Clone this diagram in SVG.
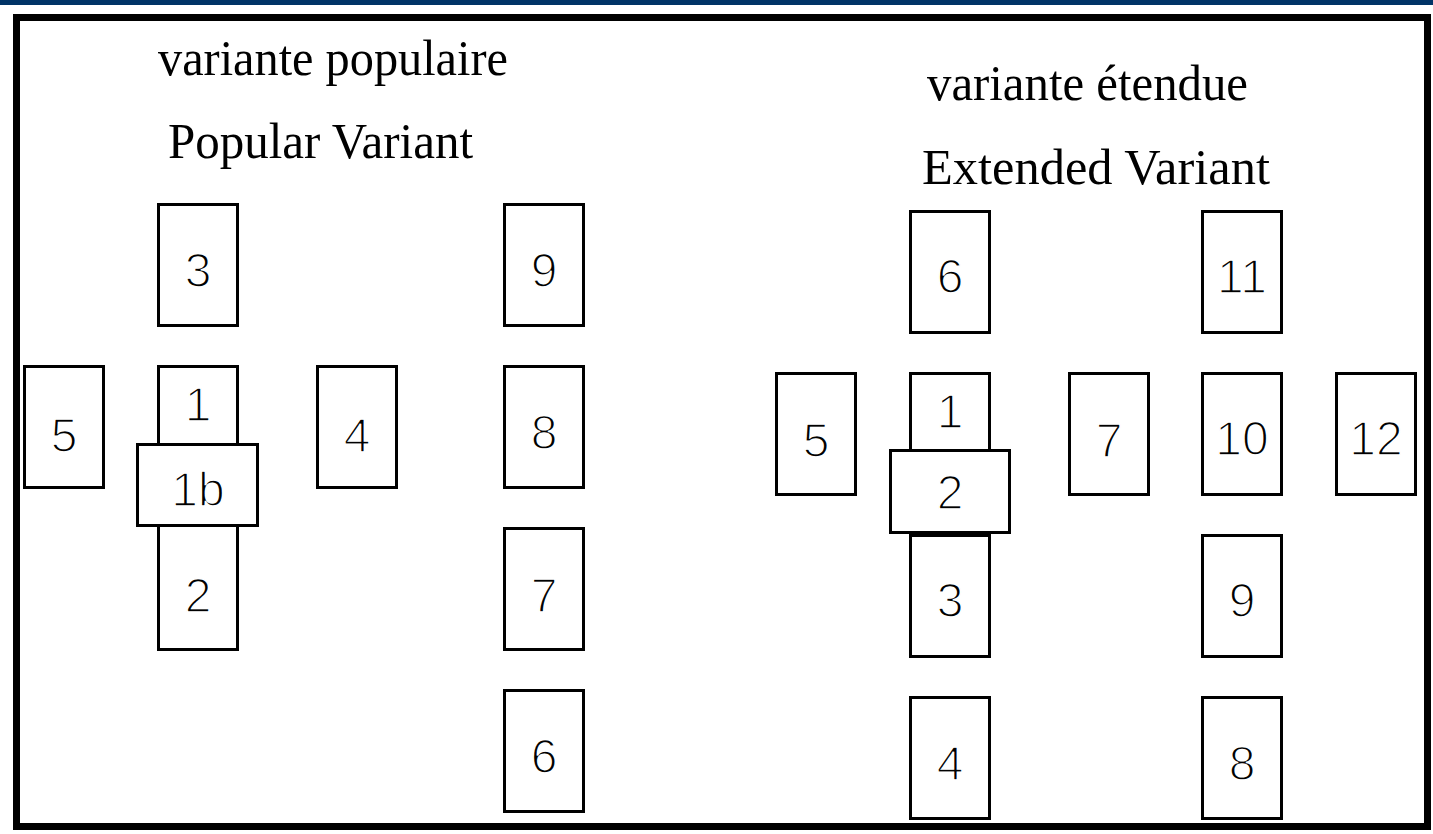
<svg xmlns="http://www.w3.org/2000/svg" width="1433" height="834" viewBox="0 0 1433 834">
<style>
.card{fill:#fff;stroke:#000;stroke-width:3;shape-rendering:crispEdges}
.num{font-family:"Liberation Sans",Arial,sans-serif;font-size:48px;fill:#000;stroke:#fff;stroke-width:1.6px;text-anchor:middle}
.title{font-family:"Liberation Serif","Times New Roman",serif;font-size:50px;fill:#000}
</style>
<rect x="0" y="0" width="1433" height="834" fill="#fff"/>
<rect x="0" y="0" width="1433" height="5" fill="#003366"/>
<rect x="16.5" y="17.5" width="1411" height="809" fill="none" stroke="#000" stroke-width="7"/>
<g id="titles">
<text class="title" x="158" y="75" textLength="350" lengthAdjust="spacingAndGlyphs">variante populaire</text>
<text class="title" x="168" y="158" textLength="305" lengthAdjust="spacingAndGlyphs">Popular Variant</text>
<text class="title" x="927" y="100" textLength="321" lengthAdjust="spacingAndGlyphs">variante étendue</text>
<text class="title" x="922" y="184" textLength="348" lengthAdjust="spacingAndGlyphs">Extended Variant</text>
</g>
<g id="connectors"></g>
<g id="popular">
<g id="p3"><rect class="card" x="158.5" y="204.5" width="79" height="121"/><text class="num" x="198" y="287">3</text></g>
<g id="p5"><rect class="card" x="24.5" y="366.5" width="79" height="121"/><text class="num" x="64" y="452">5</text></g>
<g id="p1"><rect class="card" x="158.5" y="366.5" width="79" height="121"/><text class="num" x="198" y="421">1</text></g>
<g id="p4"><rect class="card" x="317.5" y="366.5" width="79" height="121"/><text class="num" x="357" y="452">4</text></g>
<g id="p2"><rect class="card" x="158.5" y="525.5" width="79" height="124"/><text class="num" x="198" y="612">2</text></g>
<g id="p1b"><rect class="card" x="137.5" y="444.5" width="120" height="81"/><text class="num" x="198" y="506">1b</text></g>
<g id="p9"><rect class="card" x="504.5" y="204.5" width="79" height="121"/><text class="num" x="544" y="287">9</text></g>
<g id="p8"><rect class="card" x="504.5" y="366.5" width="79" height="121"/><text class="num" x="544" y="449">8</text></g>
<g id="p7"><rect class="card" x="504.5" y="528.5" width="79" height="121"/><text class="num" x="544" y="612">7</text></g>
<g id="p6"><rect class="card" x="504.5" y="690.5" width="79" height="121"/><text class="num" x="544" y="773">6</text></g>
</g>
<g id="extended">
<g id="e6"><rect class="card" x="910.5" y="211.5" width="79" height="121"/><text class="num" x="950" y="293">6</text></g>
<g id="e11"><rect class="card" x="1202.5" y="211.5" width="79" height="121"/><text class="num" x="1242" y="293">11</text></g>
<g id="e5"><rect class="card" x="776.5" y="373.5" width="79" height="121"/><text class="num" x="816" y="457">5</text></g>
<g id="e1"><rect class="card" x="910.5" y="373.5" width="79" height="121"/><text class="num" x="950" y="428">1</text></g>
<g id="e7"><rect class="card" x="1069.5" y="373.5" width="79" height="121"/><text class="num" x="1109" y="457">7</text></g>
<g id="e10"><rect class="card" x="1202.5" y="373.5" width="79" height="121"/><text class="num" x="1242" y="455">10</text></g>
<g id="e12"><rect class="card" x="1336.5" y="373.5" width="79" height="121"/><text class="num" x="1376" y="455">12</text></g>
<g id="e3"><rect class="card" x="910.5" y="535.5" width="79" height="121"/><text class="num" x="950" y="617">3</text></g>
<g id="e9"><rect class="card" x="1202.5" y="535.5" width="79" height="121"/><text class="num" x="1242" y="617">9</text></g>
<g id="e4"><rect class="card" x="910.5" y="697.5" width="79" height="121"/><text class="num" x="950" y="780">4</text></g>
<g id="e8"><rect class="card" x="1202.5" y="697.5" width="79" height="121"/><text class="num" x="1242" y="780">8</text></g>
<g id="e2"><rect class="card" x="890.5" y="450.5" width="119" height="82"/><text class="num" x="950" y="509">2</text></g>
</g>
</svg>
